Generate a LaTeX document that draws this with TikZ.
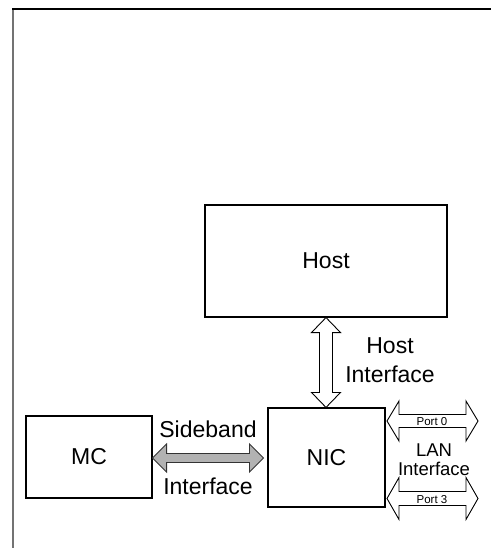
\documentclass[tikz,border=0pt]{standalone}
\usepackage{fontspec}
\setmainfont{Liberation Sans}
\usetikzlibrary{calc}
\newcommand\hdblarrow[6]{% #1 left coord, #2 right coord, #3 shaft half, #4 head half, #5 head length, #6 style
  \draw[#6] let \p1=(#1), \p2=(#2) in
    (\x1,\y1) -- (\x1+#5,\y1+#4) -- (\x1+#5,\y1+#3) -- (\x2-#5,\y1+#3) -- (\x2-#5,\y1+#4) -- (\x2,\y1)
    -- (\x2-#5,\y1-#4) -- (\x2-#5,\y1-#3) -- (\x1+#5,\y1-#3) -- (\x1+#5,\y1-#4) -- cycle;}
\newcommand\vdblarrow[6]{% #1 top coord, #2 bottom coord, #3 shaft half, #4 head half, #5 head length, #6 style
  \draw[#6] let \p1=(#1), \p2=(#2) in
    (\x1,\y1) -- (\x1+#4,\y1-#5) -- (\x1+#3,\y1-#5) -- (\x1+#3,\y2+#5) -- (\x1+#4,\y2+#5) -- (\x1,\y2)
    -- (\x1-#4,\y2+#5) -- (\x1-#3,\y2+#5) -- (\x1-#3,\y1-#5) -- (\x1-#4,\y1-#5) -- cycle;}
\tikzset{
  box/.style={draw=black, line width=1.1pt, fill=white, inner sep=0pt,
    font=\fontsize{23}{28}\selectfont},
  lbl/.style={inner sep=0pt, align=center, font=\fontsize{23}{29}\selectfont},
  smalllbl/.style={inner sep=0pt, align=center, font=\fontsize{18.5}{19.5}\selectfont},
  portlbl/.style={inner sep=0pt, font=\fontsize{11.5}{13}\selectfont},
  openarrow/.style={draw=black, line width=0.9pt, fill=white, line join=miter},
  grayarrow/.style={draw=black!80, line width=0.9pt, fill=black!30, line join=miter},
}
\begin{document}
\begin{tikzpicture}[x=1pt, y=-1pt]
  \useasboundingbox (0,0) rectangle (491,548);
  % frame
  \draw[black!55, line width=2pt] (12.5,9) -- (12.5,548);
  \draw[black, line width=1.3pt] (12,9) -- (491,9);

  % boxes
  \node[box, minimum width=242pt, minimum height=112pt] (host) at (326,261) {Host};
  \node[box, minimum width=117pt, minimum height=99pt] (nic) at (326.5,457.5) {NIC};
  \node[box, minimum width=126pt, minimum height=82pt] (mc) at (89,457) {MC};

  % host interface arrow
  \coordinate (hiTop) at (host.south);
  \coordinate (hiBot) at (host.south |- nic.north);
  \vdblarrow{hiTop}{hiBot}{6.5pt}{14.5pt}{15pt}{openarrow}
  \node[lbl] (hilbl) at (390,360) {Host\\Interface};

  % sideband arrow
  \coordinate (sbL) at ([yshift=-1pt]mc.east);
  \coordinate (sbR) at ([xshift=-4pt,yshift=-0.5pt]nic.west);
  \hdblarrow{sbL}{sbR}{4.5pt}{14pt}{14pt}{grayarrow}
  \node[lbl] (sblbl1) at (208,429) {Sideband};
  \node[lbl] (sblbl2) at (208,486) {Interface};

  % LAN arrows
  \coordinate (p0a) at (387,421);
  \coordinate (p0b) at (478,421);
  \hdblarrow{p0a}{p0b}{6.5pt}{20pt}{12pt}{openarrow}
  \coordinate (p3a) at (387,498.5);
  \coordinate (p3b) at (478,498.5);
  \hdblarrow{p3a}{p3b}{7pt}{21pt}{12pt}{openarrow}
  \node[portlbl] (p0lbl) at (432,422) {Port 0};
  \node[portlbl] (p3lbl) at (432,499.5) {Port 3};
  \node[smalllbl] (lanlbl) at (434,459.5) {LAN\\Interface};
\end{tikzpicture}
\end{document}
